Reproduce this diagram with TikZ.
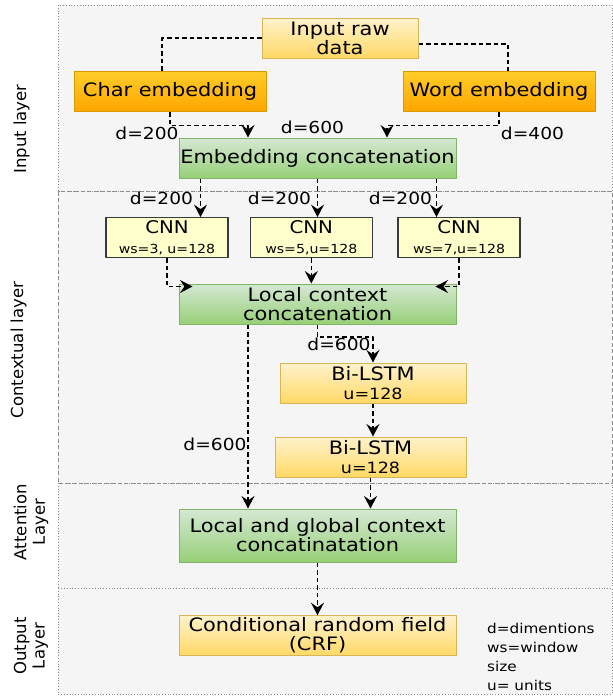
\documentclass[tikz,border=0pt]{standalone}
\usepackage{fontspec}
\setmainfont{DejaVu Sans}[FakeStretch=1.13]
\newfontfamily\sidefont{DejaVu Sans}
\usepackage{tikz}
\usetikzlibrary{arrows.meta,calc}
\usetikzlibrary{positioning}

\definecolor{panel}{HTML}{F5F5F5}
\definecolor{panelline}{HTML}{8C8C8C}
\definecolor{yeltop}{HTML}{FFF2CC}
\definecolor{yelbot}{HTML}{FFD966}
\definecolor{yelline}{HTML}{D6B656}
\definecolor{orgtop}{HTML}{FFCD28}
\definecolor{orgbot}{HTML}{FFA500}
\definecolor{orgline}{HTML}{D79B00}
\definecolor{grntop}{HTML}{D5E8D4}
\definecolor{grnbot}{HTML}{97D077}
\definecolor{grnline}{HTML}{82B366}
\definecolor{cnnfill}{HTML}{FFFFCC}
\definecolor{cnnline}{HTML}{36393D}

\newcommand{\twosize}[2]{{\fontsize{17.5}{18}\selectfont #1}\\[1pt]{\fontsize{12.5}{13}\selectfont #2}}
\newcommand{\lstmtext}[2]{{\fontsize{18.5}{19}\selectfont #1}\\[0pt]{\fontsize{15.5}{16}\selectfont #2}}

\begin{document}
\begin{tikzpicture}[x=1pt,y=-1pt,>={Stealth[length=12.5pt,width=13pt,inset=4.5pt]},line join=round,
  layer/.style={draw=panelline,fill=panel,line width=0.8pt,dotted},
  box/.style={draw,line width=1pt,inner sep=1pt,align=center,minimum height=40pt,font=\fontsize{18.5}{19}\selectfont},
  rawbox/.style={box,draw=yelline,top color=yeltop,bottom color=yelbot},
  embbox/.style={box,draw=orgline,top color=orgtop,bottom color=orgbot,minimum width=192pt},
  catbox/.style={box,draw=grnline,top color=grntop,bottom color=grnbot,minimum width=277pt},
  cnnbox/.style={box,draw=cnnline,fill=cnnfill,minimum width=122pt,line width=1.2pt},
  flow/.style={->,line width=1.5pt,dash pattern=on 4.5pt off 3pt},
  link/.style={line width=1.5pt,dash pattern=on 4.5pt off 3pt},
  dim/.style={font=\fontsize{16.5}{17}\selectfont,inner sep=0pt},
  side/.style={rotate=90,align=center,inner sep=0pt,font=\sidefont\fontsize{16.5}{18.5}\selectfont}]
\useasboundingbox (0,0) rectangle (613,696);
% --- layer panels
\draw[layer] (58,5) rectangle (612,191.7);
\draw[layer] (58,483) rectangle (612,588);
\draw[layer] (58,588) rectangle (612,694);
\draw[layer,dotted,dash pattern=on 4pt off 2.5pt] (58,191.7) rectangle (612,483);
\node[side] (Linput) at (21.5,129) {Input layer};
\node[side] (Lcontext) at (18.5,350) {Contextual layer};
\node[side] (Lattn) at (31,522) {Attention\\Layer};
\node[side] (Lout) at (31,646) {Output\\Layer};
% --- input layer
\node[rawbox,minimum width=156pt] (raw) at (340,38) {Input raw\\data};
\node[embbox] (char) at (170,91.5) {Char embedding};
\node[embbox] (word) at (499,91.5) {Word embedding};
\node[catbox] (emb) at (317.5,158) {Embedding concatenation};
\draw[link] (raw.west) -| ($(char.north)+(-8,0)$);
\draw[link] ($(raw.east)+(0,6)$) -| ($(word.north)+(9,0)$);
\draw[flow] (char.south) -- ++(0,13.5) -| ($(emb.north)+(-69.5,0)$);
\draw[flow] (word.south) -- ++(0,13.5) -| ($(emb.north)+(69.5,0)$);
\node[dim] (d1) at (147,133) {d=200};
\node[dim] (d2) at (312.5,127) {d=600};
\node[dim] (d3) at (532.5,133) {d=400};
% --- contextual layer
\node[cnnbox] (cnn1) at (167,237.7) {\twosize{CNN}{ws=3, u=128}};
\node[cnnbox] (cnn2) at (311.3,237.7) {\twosize{CNN}{ws=5,u=128}};
\node[cnnbox] (cnn3) at (459,237.7) {\twosize{CNN}{ws=7,u=128}};
\coordinate (e1) at ($(emb.south)+(-117,0)$);
\coordinate (e3) at ($(emb.south)+(119,0)$);
\draw[flow] (e1) -- (e1 |- cnn1.north);
\draw[flow] (emb.south) -- (emb.south |- cnn2.north);
\draw[flow] (e3) -- (e3 |- cnn3.north);
\node[dim] (d4) at (161.5,198) {d=200};
\node[dim] (d5) at (279.5,198) {d=200};
\node[dim] (d6) at (400.5,198) {d=200};
\node[catbox] (lcc) at (317.5,304) {Local context\\concatenation};
\draw[flow] (cnn1.south) |- ($(lcc.north west)+(14,3)$);
\draw[flow] (cnn2.south) -- (cnn2.south |- lcc.north);
\draw[flow] (cnn3.south) |- ($(lcc.north east)+(-21,3)$);
\node[rawbox,minimum width=186pt] (lstm1) at (373,383) {\lstmtext{Bi-LSTM}{u=128}};
\node[rawbox,minimum width=191pt] (lstm2) at (370.5,457) {\lstmtext{Bi-LSTM}{u=128}};
\draw[flow] (lcc.south) -- ++(0,12.7) -| (lstm1.north);
\node[dim] (d7) at (339,344) {d=600};
\draw[flow] (lstm1.south) -- (lstm1.south |- lstm2.north);
% --- attention layer
\node[catbox,minimum height=53pt] (lgc) at (317.5,535.5) {Local and global context\\concatinatation};
\coordinate (c1) at ($(lcc.south)+(-69.5,0)$);
\draw[flow] (c1) -- (c1 |- lgc.north);
\node[dim] (d8) at (215,444) {d=600};
\draw[flow] (lstm2.south) -- (lstm2.south |- lgc.north);
% --- output layer
\node[rawbox,minimum width=277pt,minimum height=39.5pt] (crf) at (317.5,635.5) {Conditional random field\\(CRF)};
\draw[flow] (lgc.south) -- (crf.north);
\node[anchor=west,align=left,inner sep=0pt,font=\fontsize{13.5}{18.7}\selectfont] (key) at (487,657) {d=dimentions\\ws=window\\size\\u= units};
\end{tikzpicture}
\end{document}
